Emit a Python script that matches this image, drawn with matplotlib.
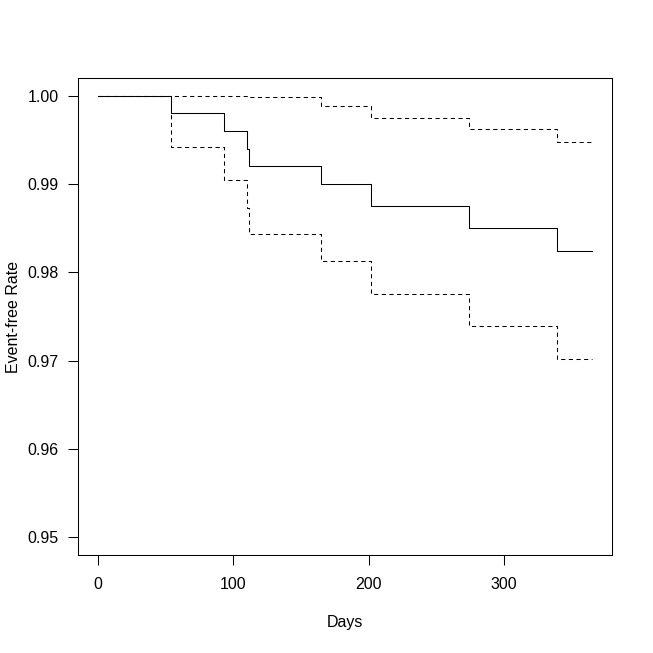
import matplotlib
matplotlib.use("Agg")
import matplotlib.pyplot as plt

# Kaplan-Meier style step data (days, event-free rate)
times = [0, 54, 93, 110, 112, 165, 202, 274, 339, 365]
surv = [1.0, 0.998, 0.996, 0.994, 0.992, 0.990, 0.9875, 0.985, 0.9824, 0.9824]
upper = [1.0, 1.0, 1.0, 1.0, 0.9999, 0.9988, 0.9975, 0.9962, 0.9947, 0.9947]
lower = [1.0, 0.9942, 0.9905, 0.9873, 0.9843, 0.9813, 0.9775, 0.9739, 0.9702, 0.9702]

x_ticks = [0, 100, 200, 300]
y_ticks = [0.95, 0.96, 0.97, 0.98, 0.99, 1.00]
y_tick_labels = ["0.95", "0.96", "0.97", "0.98", "0.99", "1.00"]

plt.rcParams['font.family'] = ['Liberation Sans', 'DejaVu Sans']
plt.rcParams['lines.scale_dashes'] = False

W = 653
fig = plt.figure(figsize=(6.53, 6.53), dpi=100)
ax = fig.add_axes([78 / W, 1 - 555 / W, 534 / W, 477 / W])

lw = 0.75
ax.step(times, surv, where='post', color='black', lw=lw)
ax.step(times, upper, where='post', color='black', lw=lw, dashes=(3, 2.5))
ax.step(times, lower, where='post', color='black', lw=lw, dashes=(3, 2.5))

ax.set_xlim(-14.6, 379.6)
ax.set_ylim(0.948, 1.002)
ax.set_xticks(x_ticks)
ax.set_xticklabels([str(t) for t in x_ticks])
ax.set_yticks(y_ticks)
ax.set_yticklabels(y_tick_labels)

for s in ax.spines.values():
    s.set_linewidth(0.75)
    s.set_color('black')

ax.tick_params(axis='both', direction='out', length=7, width=0.75,
               labelsize=11.5, colors='black')
ax.tick_params(axis='x', pad=9)
ax.tick_params(axis='y', pad=7)

ax.set_xlabel("Days", fontsize=11.5)
ax.xaxis.label.set_va('center')
ax.xaxis.set_label_coords(0.5, -(623 - 555) / 477)
ax.set_ylabel("Event-free Rate", fontsize=11.5)
ax.yaxis.label.set_va('center')
ax.yaxis.set_label_coords((14 - 78) / 534, 0.5)

fig.savefig("out.png", dpi=100)
